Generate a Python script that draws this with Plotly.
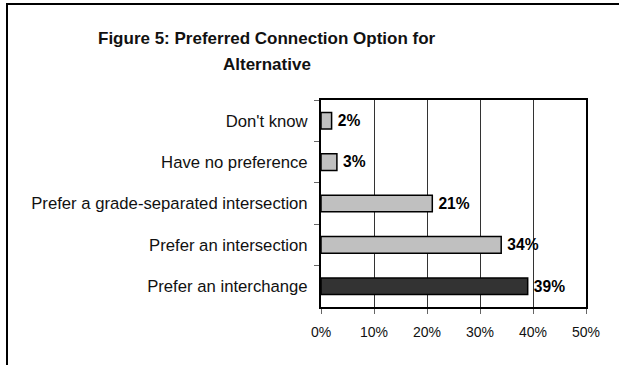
import plotly.graph_objects as go

categories = ["Don't know", "Have no preference", "Prefer a grade-separated intersection",
              "Prefer an intersection", "Prefer an interchange"]
values = [2, 3, 21, 34, 39]
bar_colors = ["#c0c0c0", "#c0c0c0", "#c0c0c0", "#c0c0c0", "#333333"]
x_ticks = [0, 10, 20, 30, 40, 50]
x_ticklabels = ["0%", "10%", "20%", "30%", "40%", "50%"]
title_lines = ["Figure 5: Preferred Connection Option for", "Alternative"]

W, H = 619, 365
L, R, T, B = 321, 586, 100, 307

def px(x):
    return (x - L) / (R - L)

def py(y):
    return (B - y) / (B - T)

fig = go.Figure(go.Bar(
    x=values, y=categories, orientation="h",
    marker=dict(color=bar_colors, line=dict(color="black", width=1.5)),
    text=[f"\u2009{v}%" for v in values], textposition="outside",
    textfont=dict(family="Liberation Sans, Arial", size=16, color="black", weight="bold"),
    cliponaxis=False, width=0.4,
))

fig.update_layout(
    width=W, height=H,
    margin=dict(l=L, r=W - R, t=T, b=H - B),
    paper_bgcolor="white", plot_bgcolor="white",
    showlegend=False,
    font=dict(family="Liberation Sans, Arial", color="#111111"),
    xaxis=dict(range=[0, 50], tickvals=x_ticks, ticktext=x_ticklabels,
               showgrid=True, gridcolor="#333333", gridwidth=1,
               showline=True, mirror=True, linecolor="black", linewidth=2,
               ticks="outside", ticklen=5, tickcolor="#666666",
               tickfont=dict(size=14), ticklabelstandoff=6, zeroline=False),
    yaxis=dict(autorange="reversed", showline=True, mirror=True, linecolor="black",
               linewidth=2, ticks="outside", ticklen=5, tickcolor="#666666",
               tickson="boundaries", tickfont=dict(size=16.7), ticklabelstandoff=8,
               showgrid=False),
)

fig.add_shape(type="rect", xref="paper", yref="paper",
              x0=px(7), x1=px(700), y0=py(450), y1=py(4),
              line=dict(color="black", width=2), fillcolor="rgba(0,0,0,0)", layer="below")

for line_text, ycen in zip(title_lines, [38, 65]):
    fig.add_annotation(text=f"<b>{line_text}</b>", xref="paper", yref="paper",
                       x=px(267), y=py(ycen), showarrow=False, xanchor="center", yanchor="middle",
                       font=dict(family="Liberation Sans, Arial", size=17, color="#111111"))

fig.write_html("out.html")
